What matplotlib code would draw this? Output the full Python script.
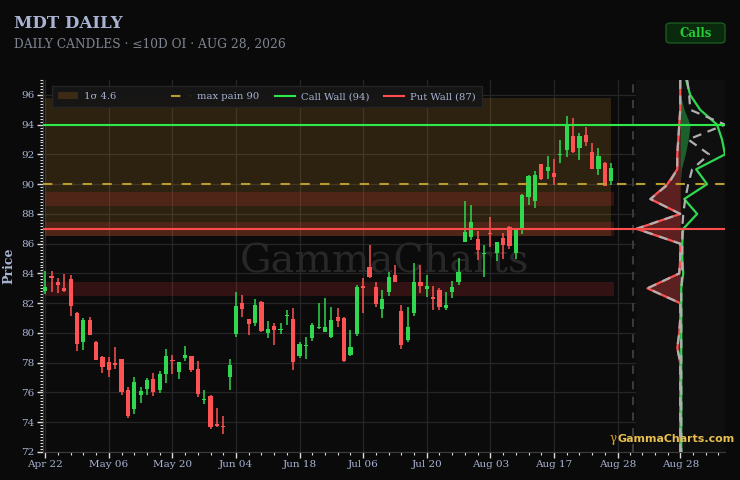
import matplotlib
matplotlib.use("Agg")
import matplotlib.pyplot as plt
import numpy as np
from matplotlib.patches import Patch, Rectangle, FancyBboxPatch
from matplotlib.lines import Line2D
from matplotlib.ticker import MultipleLocator, FixedLocator

plt.rcParams['font.family'] = ['DejaVu Serif']

# ---- data ----
tick_labels = ["Apr 22", "May 06", "May 20", "Jun 04", "Jun 18",
               "Jul 06", "Jul 20", "Aug 03", "Aug 17", "Aug 28"]

opens = [82.82, 83.80, 83.43, 83.02, 83.63, 81.34, 79.42, 80.87, 79.37, 78.39,
         78.07, 77.93, 78.23, 76.17, 74.89, 75.83, 76.24, 76.91, 76.20, 77.27,
         78.14, 77.40, 78.30, 78.43, 77.58, 75.48, 75.77, 73.85, 73.74, 77.06,
         79.93, 82.00, 80.92, 80.65, 82.10, 80.00, 80.49, 80.19, 81.15, 80.92,
         78.45, 79.12, 79.64, 80.30, 80.09, 79.75, 81.05, 80.99, 78.52, 79.93,
         83.16, 84.46, 83.07, 81.59, 82.78, 83.90, 81.48, 79.53, 81.37, 83.40,
         82.93, 82.40, 82.89, 81.66, 82.78, 83.45, 86.14, 86.48, 86.30, 85.28,
         86.74, 85.40, 86.41, 87.10, 85.36, 87.04, 89.17, 88.90, 91.34, 90.91,
         90.78, 91.93, 92.30, 93.24, 92.46, 93.31, 92.15, 91.00, 91.41, 90.22]
highs = [84.17, 84.17, 83.68, 83.97, 83.90, 81.40, 80.99, 81.05, 79.48, 78.45,
         78.37, 79.04, 78.27, 76.39, 77.02, 76.37, 77.00, 77.29, 77.45, 78.92,
         78.50, 78.03, 79.15, 78.47, 78.10, 76.17, 75.80, 74.94, 74.40, 78.25,
         82.73, 82.58, 80.95, 82.26, 82.17, 80.83, 80.65, 80.69, 81.55, 81.66,
         79.42, 79.75, 80.65, 81.99, 82.33, 81.72, 81.66, 81.05, 80.20, 83.23,
         83.67, 85.92, 83.40, 82.89, 84.12, 84.57, 81.88, 81.77, 84.68, 84.57,
         83.90, 83.16, 83.00, 82.78, 83.50, 85.02, 88.87, 88.60, 86.88, 85.92,
         87.82, 86.14, 86.70, 87.21, 87.08, 89.32, 90.62, 90.91, 91.34, 91.90,
         91.67, 92.97, 94.61, 94.43, 93.42, 93.87, 92.75, 92.41, 91.52, 91.45]
lows = [82.60, 82.78, 82.67, 82.76, 81.15, 78.81, 78.86, 79.85, 78.18, 77.29,
        77.07, 77.56, 75.83, 74.31, 74.53, 75.32, 75.83, 75.77, 75.94, 76.66,
        77.24, 76.89, 78.14, 77.38, 75.72, 75.21, 73.55, 73.70, 73.23, 76.17,
        79.75, 81.05, 79.87, 80.49, 80.09, 79.69, 79.19, 79.91, 80.54, 77.51,
        78.34, 78.23, 79.48, 80.25, 80.09, 79.64, 80.42, 78.07, 78.45, 79.80,
        81.32, 83.67, 81.77, 80.99, 82.49, 83.40, 78.90, 79.42, 81.14, 82.67,
        82.44, 81.55, 81.55, 81.55, 82.33, 83.23, 86.09, 86.25, 84.90, 83.74,
        85.76, 84.84, 84.95, 85.62, 85.00, 86.63, 88.60, 88.43, 90.29, 90.33,
        89.95, 91.41, 91.85, 92.12, 91.63, 92.57, 91.00, 90.62, 89.85, 89.95]
closes = [83.12, 83.72, 83.23, 82.82, 81.82, 79.26, 80.87, 79.89, 78.21, 77.72,
          77.51, 77.88, 76.06, 74.42, 76.71, 76.10, 76.86, 76.06, 77.22, 78.48,
          78.10, 78.03, 78.50, 77.51, 75.88, 75.52, 73.70, 73.77, 73.68, 77.85,
          81.84, 81.60, 80.60, 81.88, 80.13, 80.25, 80.20, 80.29, 81.20, 78.07,
          79.26, 79.17, 80.54, 80.40, 80.43, 80.87, 80.83, 78.14, 79.08, 83.07,
          83.00, 83.74, 81.95, 82.28, 83.79, 83.45, 79.19, 80.38, 83.45, 83.16,
          83.18, 82.30, 81.77, 81.88, 83.11, 84.12, 86.81, 87.44, 85.60, 85.32,
          86.66, 86.14, 85.92, 85.85, 87.03, 89.28, 90.55, 90.62, 90.35, 91.14,
          90.51, 91.99, 94.03, 92.19, 93.24, 92.80, 91.03, 91.90, 89.88, 91.11]

call_wall = 94
put_wall = 87
max_pain = 90
sigma = 4.6
sigma_lo, sigma_hi = 86.5, 95.8
put_zones = [89, 87, 83]

# strike profile (relative OI, right = calls, left = puts)
strikes = list(range(97, 71, -1))
call_oi = [6, 10, 20, 37, 42, 45, 16, 27, 4, 17, 3, 2, 2, 3, 1, 1, 1, 1, 1, 1, 1, 1, 1, 1, 1, 1]
put_oi = [0, 0, 0, 1, 2, 3, 3, 13, 30, 0, 44, 0, 0, 1, 33, 0, 0, 1, 3, 0, 0, 0, 0, 0, 0, 0]
prior_call = [7, 9, 10, 45, 8, 29, 12, 8, 5, 3, 2, 2, 2, 2, 1, 1, 1, 1, 1, 1, 1, 1, 1, 1, 1, 1]
prior_put = [0, 0, 0, 1, 2, 3, 3, 12, 30, 0, 44, 0, 0, 1, 33, 0, 0, 1, 3, 0, 0, 0, 0, 0, 0, 0]
net_gex = [0, 0, 4, 10, 8, 5, 1, 0, 0, 0, 0, 0, 0, 0, 0, 0, 0, 0, 0, 0, 0, 0, 0, 0, 0, 0]

# ---- style ----
BG = '#0a0a0a'
GREEN = '#2fd84f'
RED = '#ff5252'
GOLD = '#b89c2e'
TXT = '#a9b4d4'

fig = plt.figure(figsize=(7.4, 4.8), dpi=100, facecolor=BG)
ax = fig.add_axes([43/740, 28/480, 593/740, 372/480], facecolor='#0b0b0b')
pax = fig.add_axes([636/740, 28/480, 89/740, 372/480], facecolor='#0f0f0f', sharey=ax)

n = len(opens)
idx = np.arange(n)
o = np.array(opens); c = np.array(closes)
h = np.array(highs); l = np.array(lows)
up = c >= o
cols = np.where(up, GREEN, RED)

# sigma box and put zones
ax.add_patch(Rectangle((0, sigma_lo), n - 1, sigma_hi - sigma_lo,
                       facecolor='#c8862a', alpha=0.18, lw=0, zorder=1))
for z in put_zones:
    ax.add_patch(Rectangle((0, z - 0.5), n - 0.5, 0.95,
                           facecolor='#ff3b3b', alpha=0.16, lw=0, zorder=1))

# candles
ax.vlines(idx, l, h, colors=cols, lw=1.1, zorder=3)
body = np.maximum(np.abs(c - o), 0.07)
ax.bar(idx, body, bottom=np.minimum(o, c), width=0.66, color=cols, lw=0, zorder=4)

# walls
ax.axhline(call_wall, color='#2ee84a', lw=1.5, zorder=5)
ax.axhline(put_wall, color='#ff4d4d', lw=1.5, zorder=5)
ax.axhline(max_pain, color=GOLD, lw=1.5, dashes=(4.5, 5), zorder=5)
ax.axvline(92.45, color='#3a3a3a', lw=1.5, dashes=(4, 3.5), zorder=2)

ax.set_xlim(-0.35, 92.9)
ax.set_ylim(72, 97)
ax.xaxis.set_major_locator(FixedLocator(range(0, 91, 10)))
ax.set_xticklabels(tick_labels)
ax.xaxis.set_minor_locator(MultipleLocator(2))
ax.yaxis.set_major_locator(MultipleLocator(2))
ax.yaxis.set_minor_locator(MultipleLocator(0.2))
ax.grid(True, which='major', color='#262626', lw=0.9)
ax.set_axisbelow(True)
ax.tick_params(which='major', colors='#dddddd', length=4, width=1,
               labelcolor=TXT, labelsize=7.5, pad=2)
ax.tick_params(which='minor', colors='#dddddd', length=2, width=0.8)
for s in ['top', 'right']:
    ax.spines[s].set_visible(False)
for s in ['left', 'bottom']:
    ax.spines[s].set_color('#3c3c3c')
ax.set_ylabel('Price', color=TXT, fontsize=9, fontweight='bold', labelpad=4)

ax.text(0.575, 0.51, 'GammaCharts', transform=ax.transAxes, ha='center', va='center',
        fontsize=28.5, color='#282828', zorder=2)

# legend
handles = [Patch(facecolor='#3b2a16', edgecolor='none'),
           Line2D([], [], color=GOLD, lw=1.5, dashes=(4.5, 5)),
           Line2D([], [], color='#2ee84a', lw=1.5),
           Line2D([], [], color='#ff4d4d', lw=1.5)]
labels = ['1\u03c3 4.6' + ' ' * 13, 'max pain 90', 'Call Wall (94)', 'Put Wall (87)']
leg = ax.legend(handles, labels, loc='upper left', bbox_to_anchor=(0.006, 0.996), ncol=4,
                fontsize=7.2, frameon=True, fancybox=False, facecolor='#161616',
                edgecolor='#262626', framealpha=0.95, handlelength=2.0,
                handleheight=0.7, columnspacing=1.5, borderpad=0.6, handletextpad=0.6)
for t in leg.get_texts():
    t.set_color(TXT)
leg.set_zorder(10)

# strike profile panel
sk = np.array(strikes, dtype=float)
pax.fill_betweenx(sk, -np.array(put_oi), 0, color='#6a2424', alpha=0.85, lw=0, zorder=1)
pax.fill_betweenx(sk, 0, np.array(net_gex), color='#1e6b30', alpha=0.9, lw=0, zorder=1)
pax.plot(-np.array(put_oi), sk, color=RED, lw=1.6, zorder=3)
pax.plot(call_oi, sk, color=GREEN, lw=1.6, zorder=3)
pax.plot(-np.array(prior_put), sk, color='#b0b0b0', lw=1.6, dashes=(4, 3), zorder=4)
pax.plot(prior_call, sk, color='#b0b0b0', lw=1.6, dashes=(4, 3), zorder=4)
pax.axhline(call_wall, color='#2ee84a', lw=1.5, zorder=5)
pax.axhline(put_wall, color='#ff4d4d', lw=1.5, zorder=5)
pax.axhline(max_pain, color=GOLD, lw=1.5, dashes=(4.5, 5), zorder=5)
pax.set_xlim(-44.5, 45)
pax.xaxis.set_major_locator(FixedLocator([0]))
pax.set_xticklabels([tick_labels[-1]])
pax.xaxis.set_minor_locator(FixedLocator([-38.4, -25.6, -12.8, 12.8, 25.6, 38.4]))
pax.tick_params(which='major', colors='#dddddd', length=4, width=1,
                labelcolor=TXT, labelsize=7.5, pad=2)
pax.tick_params(which='minor', colors='#dddddd', length=2, width=0.8)
pax.tick_params(axis='y', left=False, labelleft=False, which='both')
for s in ['top', 'right', 'left']:
    pax.spines[s].set_visible(False)
pax.spines['bottom'].set_color('#3c3c3c')

# titles
fig.text(14/740, 1 - 28/480, 'MDT DAILY', color=TXT, fontsize=12, fontweight='bold')
fig.text(14/740, 1 - 48/480, 'DAILY CANDLES \u00b7 \u226410D OI \u00b7 AUG 28, 2026',
         color='#7f8590', fontsize=8.8)

# calls button
fig.patches.append(FancyBboxPatch((666/740, 1 - 43/480), 59/740, 20/480,
                                  boxstyle='round,pad=0,rounding_size=0.006',
                                  transform=fig.transFigure, facecolor='#0a2a0e',
                                  edgecolor='#1a5a20', lw=1))
fig.text(695.5/740, 1 - 33.5/480, 'Calls', color='#22cc33', fontsize=8.5,
         fontweight='bold', ha='center', va='center')

# logo
fig.text(610/740, 1 - 442/480, '\u03b3', color='#d9a520', fontsize=8.5)
fig.text(618/740, 1 - 442/480, 'GammaCharts.com', color='#e8c050', fontsize=7.9,
         fontweight='bold', family='DejaVu Sans')

fig.savefig('out.png', dpi=100, facecolor=BG)
